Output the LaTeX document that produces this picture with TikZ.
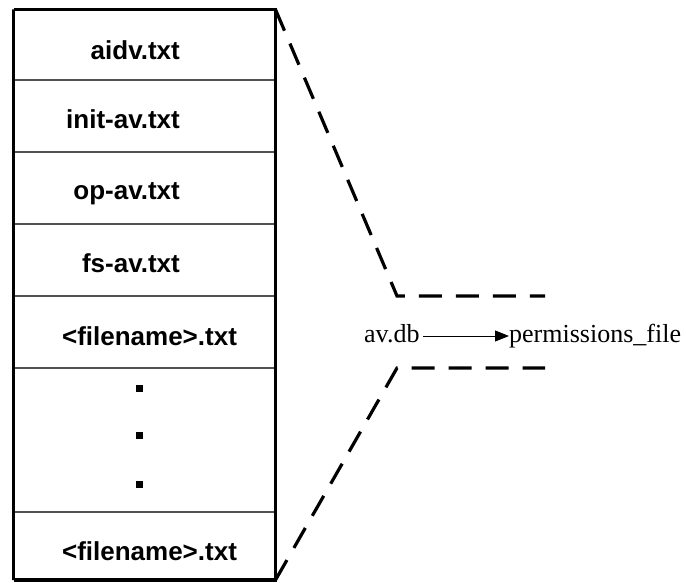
\documentclass[tikz,border=0pt]{standalone}
\usepackage{fontspec}
\setmainfont{Liberation Serif}
\newfontfamily\labelsans{Liberation Sans}
\usetikzlibrary{arrows.meta}
\begin{document}
\begin{tikzpicture}[x=1pt,y=-1pt,
  outline/.style={line width=3.2pt},
  divider/.style={line width=1.4pt,draw=black!68},
  entry/.style={inner sep=0pt,font=\labelsans\bfseries\fontsize{26}{30}\selectfont},
  plain/.style={inner sep=0pt,font=\fontsize{26}{30}\selectfont},
  zoomline/.style={line width=3.2pt,dash pattern=on 23pt off 14pt},
  dotmark/.style={fill=black}]
\useasboundingbox (0,0) rectangle (686,583);

% row dividers of the file list
\foreach \yy in {80,152,224,296,368,512}
  \draw[divider] (13.5,\yy) -- (275.5,\yy);

% outer frame of the list
\coordinate (tl) at (13.5,9.5);
\coordinate (tr) at (275.5,9.5);
\coordinate (br) at (275.5,580);
\draw[outline] (tl) rectangle (13.5,580);
\draw[outline] (tl) -- (tr) -- (br) -- (13.5,580);

% file entries
\node[entry,anchor=base east] (f1) at (180,60) {aidv.txt};
\node[entry,anchor=base east] (f2) at (180,129) {init-av.txt};
\node[entry,anchor=base east] (f3) at (180,200) {op-av.txt};
\node[entry,anchor=base east] (f4) at (180,272) {fs-av.txt};
\node[entry,anchor=base] (f5) at (149.5,345) {<filename>.txt};
\node[entry,anchor=base] (f6) at (149.5,560) {<filename>.txt};

% ellipsis dots
\foreach \yy in {388.7,435.7,484}
  \fill[dotmark] (135.6,\yy-3.5) rectangle (142.6,\yy+3.5);

% zoom lines towards the detail
\coordinate (ua) at (397,296);
\coordinate (ub) at (545,296);
\coordinate (la) at (397,368);
\coordinate (lb) at (545,368);
\draw[zoomline] (tr) -- (ua) -- (ub);
\draw[zoomline] (br) -- (la) -- (lb);

% detail: av.db points to permissions_file
\node[plain,anchor=base west] (db) at (364,342) {av.db};
\node[plain,anchor=base west] (pf) at (509,342) {permissions\_file};
\draw[line width=1pt,-{Triangle[length=14pt,width=11pt]}]
  ([xshift=3pt]db.east |- 0,336) -- (pf.west |- 0,336);
\end{tikzpicture}
\end{document}
